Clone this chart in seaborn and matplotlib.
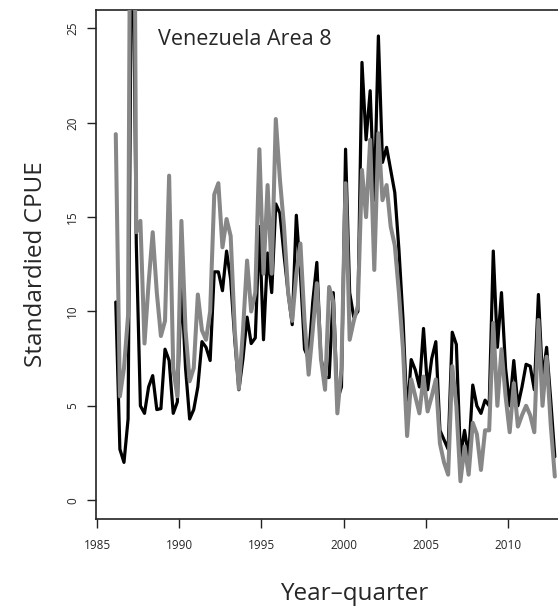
import numpy as np
import pandas as pd
import matplotlib
matplotlib.use("Agg")
import matplotlib.pyplot as plt
import seaborn as sns

# ---- data ----
years = list(range(1986, 2013))
quarters = [1, 2, 3, 4]

black_cpue = [
    10.5, 2.7, 2.0, 4.3,
    35.0, 13.6, 5.0, 4.6,
    6.0, 6.6, 4.8, 4.85,
    8.0, 7.4, 4.6, 5.2,
    11.5, 7.0, 4.3, 4.8,
    6.0, 8.4, 8.1, 7.4,
    12.1, 12.1, 11.1, 13.2,
    11.7, 8.5, 5.85, 7.5,
    9.7, 8.3, 8.6, 14.5,
    8.5, 13.1, 11.0, 15.7,
    15.2, 13.0, 11.0, 9.3,
    15.1, 12.0, 8.0, 7.5,
    10.5, 12.6, 7.5, 6.5,
    6.5, 11.0, 5.3, 6.0,
    18.6, 11.0, 9.7, 10.0,
    23.2, 19.1, 21.7, 15.9,
    24.6, 17.9, 18.7, 17.5,
    16.3, 13.3, 9.6, 4.5,
    7.45, 6.9, 6.0, 9.1,
    5.85, 7.5, 8.4, 3.7,
    3.2, 2.7, 8.9, 8.25,
    2.3, 3.7, 2.3, 6.1,
    5.0, 4.6, 5.3, 5.0,
    13.2, 8.1, 11.0, 7.0,
    5.0, 7.4, 5.0, 6.0,
    7.2, 7.1, 5.85, 10.9,
    6.4, 8.1, 5.3, 2.3,
]

gray_cpue = [
    19.4, 5.5, 7.0, 9.8,
    55.0, 14.2, 14.8, 8.3,
    11.5, 14.2, 11.0, 8.7,
    9.5, 17.2, 7.0, 5.5,
    14.8, 9.0, 6.3, 7.0,
    10.9, 9.0, 8.5, 10.0,
    16.2, 16.8, 13.4, 14.9,
    14.0, 9.0, 5.9, 9.0,
    12.7, 10.0, 11.0, 18.6,
    12.0, 16.7, 12.0, 20.2,
    17.0, 14.5, 11.0, 9.5,
    12.0, 13.6, 9.5, 6.65,
    9.0, 11.5, 7.5, 5.85,
    11.3, 10.5, 4.6, 7.0,
    16.8, 8.5, 9.5, 10.3,
    17.5, 15.0, 19.1, 12.2,
    19.45, 15.9, 16.7, 14.5,
    13.5, 11.0, 8.0, 3.4,
    6.4, 5.5, 4.6, 6.55,
    4.7, 5.5, 6.4, 3.0,
    2.0, 1.35, 7.1, 5.0,
    1.0, 2.85, 1.35, 4.1,
    3.5, 1.6, 3.7, 3.7,
    9.4, 5.0, 8.0, 5.5,
    3.6, 6.2, 3.9, 4.5,
    5.0, 4.5, 3.6, 9.55,
    5.0, 7.6, 4.0, 1.25,
]

x_ticks = [1985, 1990, 1995, 2000, 2005, 2010]
y_ticks = [0, 5, 10, 15, 20, 25]
title_text = "Venezuela Area 8"
x_label = "Year\u2013quarter"
y_label = "Standardied CPUE"

time = [y + (q - 0.5) / 4 for y in years for q in quarters]
df = pd.DataFrame({"time": time, "black": black_cpue, "gray": gray_cpue})

# ---- style ----
sns.set_style("ticks")
plt.rcParams["font.family"] = ["Open Sans", "DejaVu Sans"]

W, H = 558, 609
fig = plt.figure(figsize=(W / 100, H / 100), dpi=100)
left_px, right_px, top_px, bot_px = 96, 574.6, 9.6, 519
ax = fig.add_axes([left_px / W, 1 - bot_px / H, (right_px - left_px) / W, (bot_px - top_px) / H])

sns.lineplot(data=df, x="time", y="black", color="black", linewidth=2.3, ax=ax, zorder=2)
sns.lineplot(data=df, x="time", y="gray", color="#878787", linewidth=2.9, ax=ax, zorder=3)

ax.set_xlim(1984.92, 2014.08)
ax.set_ylim(-1, 26)
ax.set_xticks(x_ticks)
ax.set_yticks(y_ticks)
ax.set_xticklabels([str(v) for v in x_ticks], fontsize=8.5)
ax.set_yticklabels([str(v) for v in y_ticks], fontsize=8.5)
for lab in ax.get_yticklabels():
    lab.set_rotation(90)
    lab.set_va("center")

for side in ["left", "bottom", "top", "right"]:
    ax.spines[side].set_visible(True)
    ax.spines[side].set_color("#222222")
    ax.spines[side].set_linewidth(1.2)

ax.tick_params(axis="both", which="major", direction="out", length=6.5, width=1.0,
               color="#222222", bottom=True, left=True, top=False, right=False)
ax.tick_params(axis="x", pad=8.0)
ax.tick_params(axis="y", pad=5.5)

ax.set_xlabel(x_label, fontsize=17.5)
ax.set_ylabel(y_label, fontsize=17.5)
ax.xaxis.set_label_coords((354 - left_px) / (right_px - left_px), (bot_px - 582) / (bot_px - top_px))
ax.yaxis.set_label_coords((48 - left_px) / (right_px - left_px), 0.5)
ax.yaxis.label.set_va("bottom")

ax.text((158 - left_px) / (right_px - left_px), (bot_px - 45) / (bot_px - top_px), title_text,
        transform=ax.transAxes, fontsize=15.5, ha="left", va="baseline")

fig.savefig("out.png", dpi=100)
